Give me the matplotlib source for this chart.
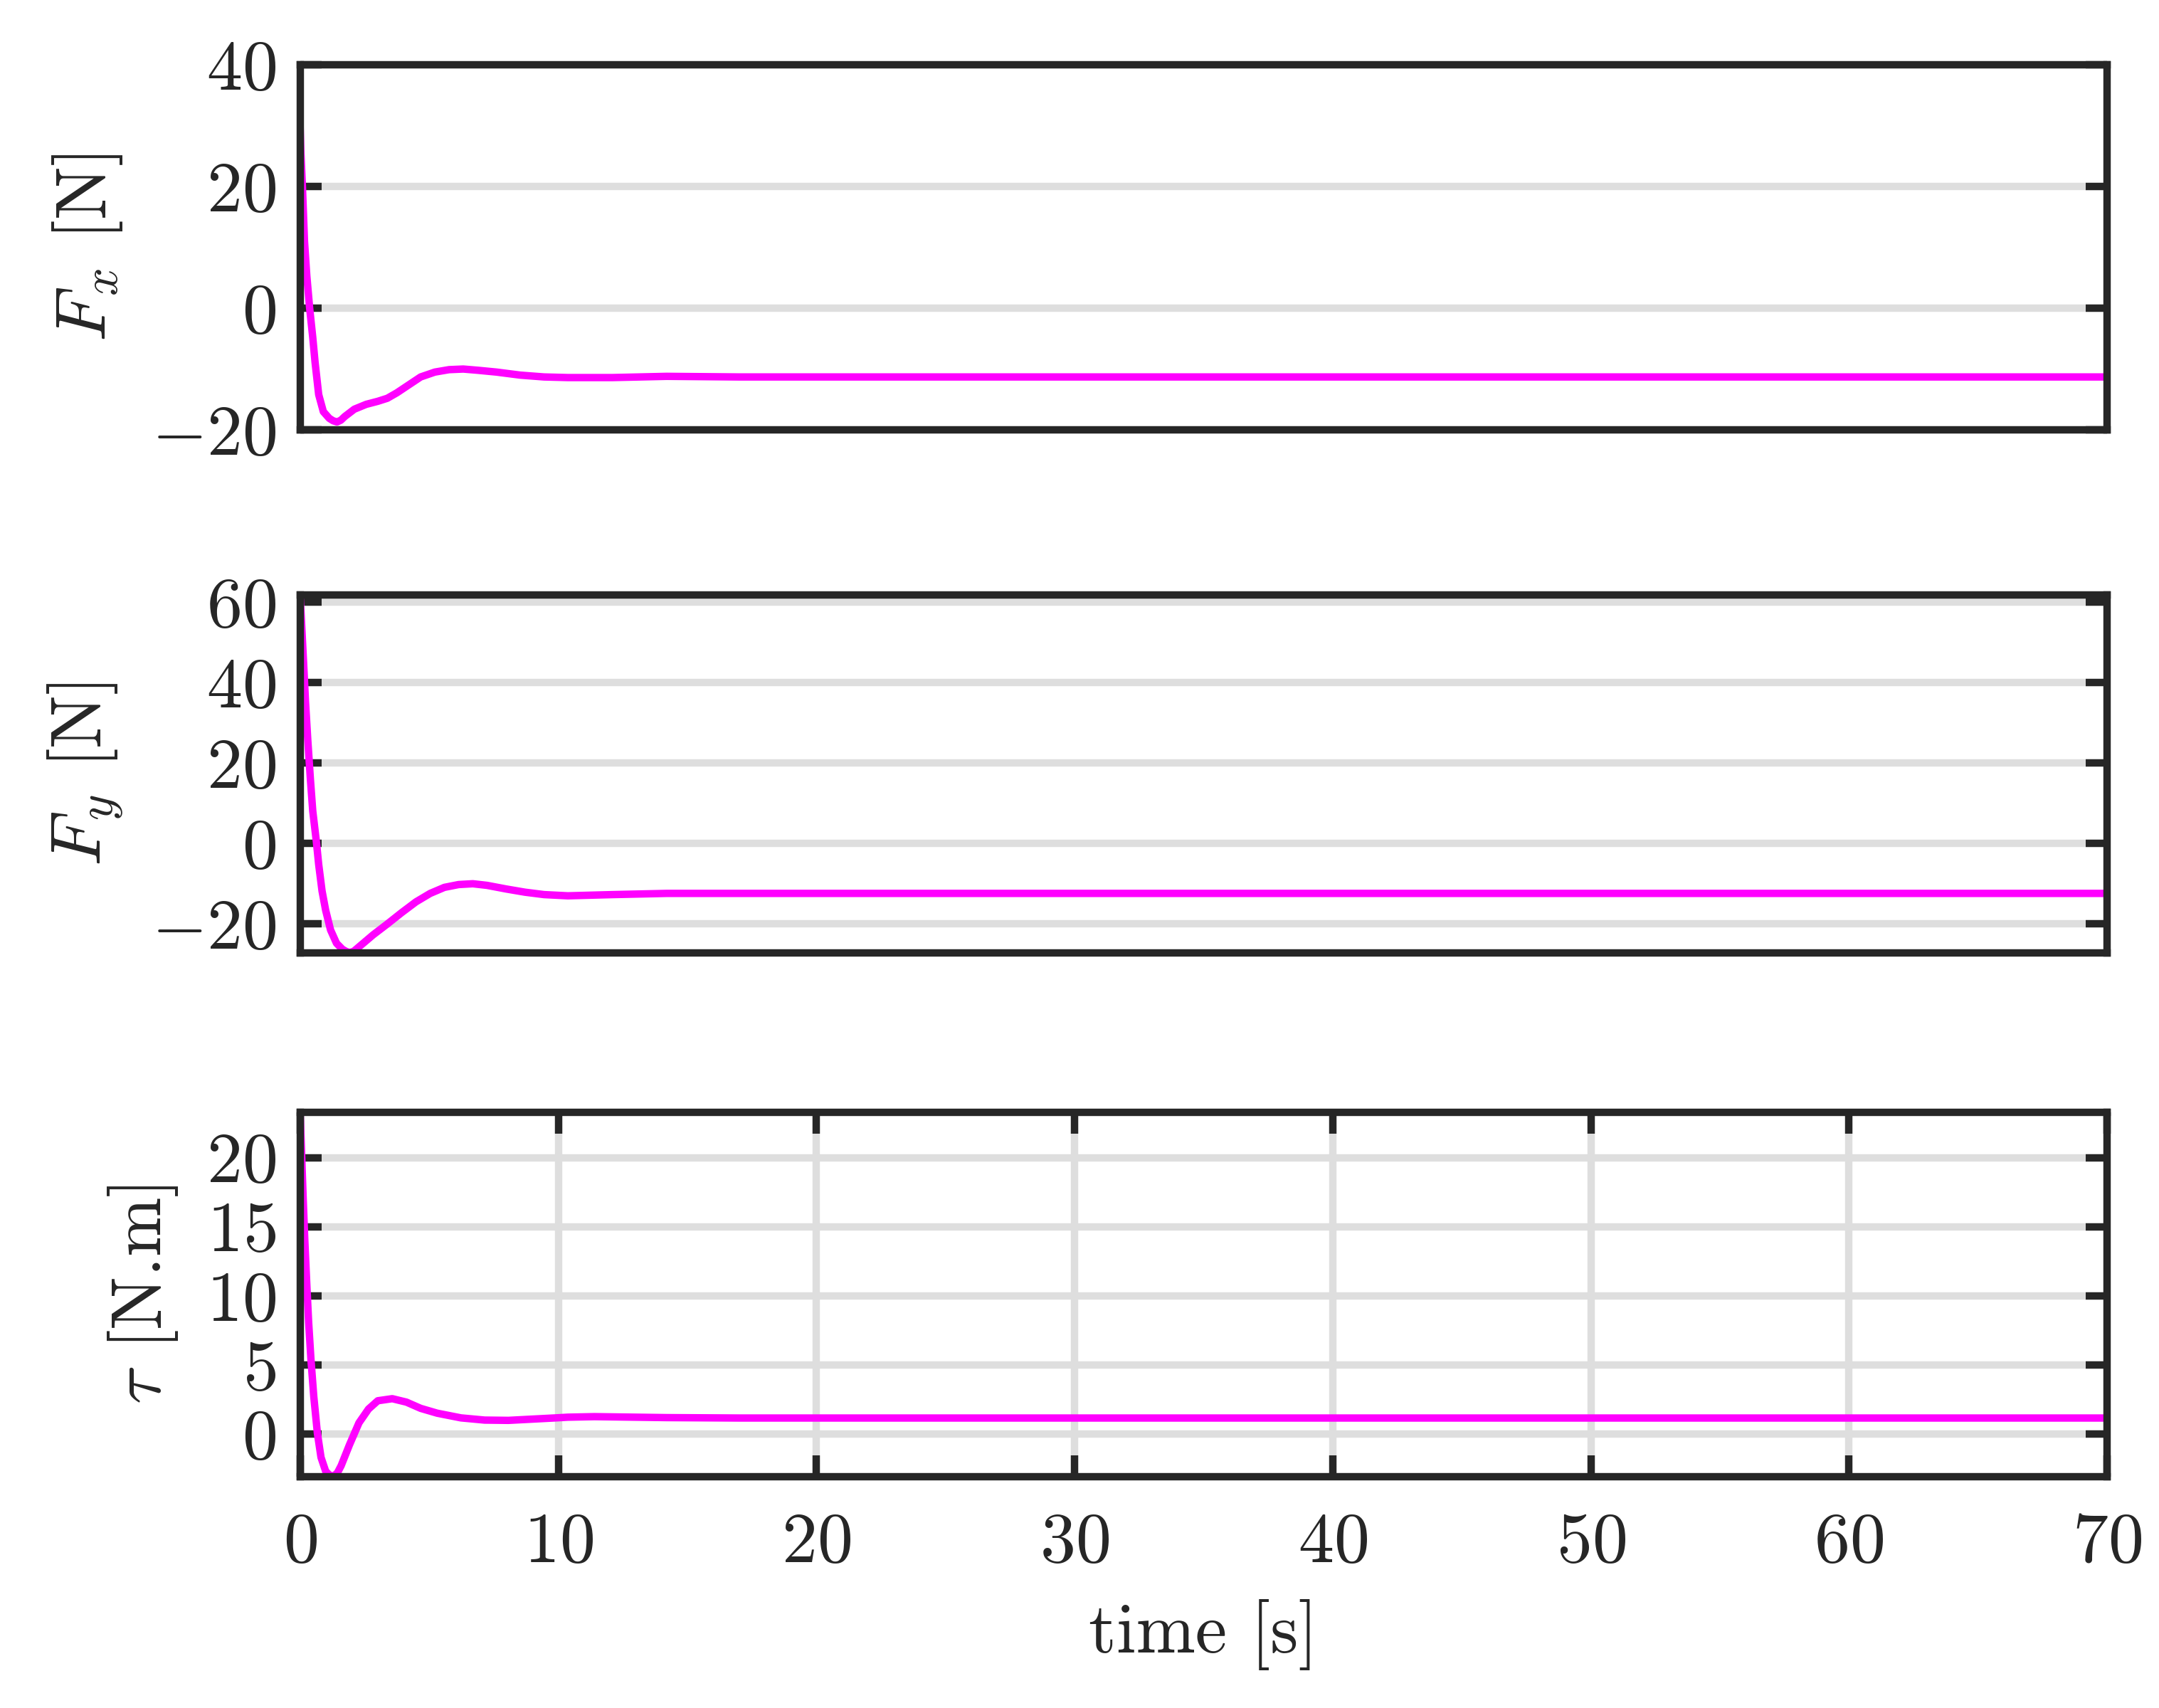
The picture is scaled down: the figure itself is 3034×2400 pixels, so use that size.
import matplotlib
matplotlib.use("Agg")
import matplotlib.pyplot as plt

# efforts de commande (temps en s)
t_fx = [0, 0.03, 0.09, 0.17, 0.26, 0.37, 0.49, 0.58, 0.72, 0.9, 1.13, 1.28, 1.43, 1.58, 1.73, 2.1, 2.56,
        3.01, 3.38, 3.75, 4.21, 4.67, 5.22, 5.77, 6.32, 6.88, 7.61, 8.53, 9.45, 10.37,
        12.1, 14.2, 17, 20, 30, 40, 50, 60, 70]
fx = [30, 25.6, 20, 11.0, 5.3, 0, -4.8, -8.9, -14.2, -17.0, -18.1, -18.5, -18.7, -18.4, -17.8, -16.6, -15.8,
      -15.3, -14.8, -13.9, -12.6, -11.3, -10.5, -10.1, -10.0, -10.2, -10.5, -11.0, -11.3, -11.4,
      -11.4, -11.2, -11.3, -11.3, -11.3, -11.3, -11.3, -11.3, -11.3]

t_fy = [0, 0.07, 0.15, 0.21, 0.30, 0.40, 0.49, 0.63, 0.72, 0.85, 0.99, 1.18, 1.41, 1.64, 1.8, 1.93,
        2.08, 2.28, 2.83, 3.38, 3.93, 4.49, 5.04, 5.59, 6.14, 6.69, 7.24, 7.98, 8.71, 9.45, 10.37,
        12.1, 14.2, 17, 20, 30, 40, 50, 60, 70]
fy = [61.7, 53.1, 42.9, 35.1, 25.4, 15.8, 8.0, 0.4, -5.3, -11.9, -16.7, -21.6, -24.9, -26.4, -27.0, -27.2,
      -26.9, -25.8, -22.8, -20.1, -17.3, -14.6, -12.5, -11.0, -10.3, -10.1, -10.5, -11.4, -12.2, -12.8, -13.1,
      -12.8, -12.5, -12.5, -12.5, -12.5, -12.5, -12.5, -12.5, -12.5]

t_tau = [0, 0.06, 0.12, 0.18, 0.26, 0.33, 0.42, 0.53, 0.67, 0.81, 0.99, 1.15, 1.31, 1.45, 1.59, 1.91, 2.28,
         2.65, 3.01, 3.57, 4.12, 4.67, 5.31, 6.23, 7.15, 8.07, 8.99, 9.91, 10.37, 11.4, 14.2,
         17, 20, 30, 40, 50, 60, 70]
tau = [23.3, 20.2, 17.0, 14.1, 10.8, 8.1, 5.4, 2.7, 0.05, -1.7, -2.7, -3.0, -3.05, -2.8, -2.3, -0.8, 0.8,
       1.8, 2.4, 2.55, 2.3, 1.85, 1.5, 1.16, 1.0, 0.98, 1.07, 1.16, 1.21, 1.25, 1.18,
       1.15, 1.15, 1.15, 1.15, 1.15, 1.15, 1.15]

xticks = [0, 10, 20, 30, 40, 50, 60, 70]

noir = "#262626"
gris = "#dedede"
magenta = "#ff00ff"

plt.rcParams["font.family"] = "serif"
plt.rcParams["font.serif"] = ["cmr10"]
plt.rcParams["mathtext.fontset"] = "cm"
plt.rcParams["axes.formatter.use_mathtext"] = True
plt.rcParams["font.size"] = 24
plt.rcParams["text.color"] = noir
plt.rcParams["axes.labelcolor"] = noir

fig = plt.figure(figsize=(3034 / 300, 2400 / 300), dpi=300)

gauche = 0.139
largeur = 0.837
ax1 = fig.add_axes([gauche, 0.7483, largeur, 0.2138])
ax2 = fig.add_axes([gauche, 0.4421, largeur, 0.2096])
ax3 = fig.add_axes([gauche, 0.1354, largeur, 0.2133])


def habillage(ax):
    for s in ax.spines.values():
        s.set_linewidth(2.5)
        s.set_color(noir)
    ax.tick_params(direction="in", length=7.2, width=2.5, color=noir, labelcolor=noir,
                   right=True, top=True, pad=8)
    ax.set_axisbelow(True)
    ax.set_xlim(0, 70)


ax1.plot(t_fx, fx, color=magenta, lw=2.5)
habillage(ax1)
ax1.set_ylim(-20, 40)
ax1.set_yticks([-20, 0, 20, 40])
ax1.set_xticks([])
ax1.grid(axis="y", color=gris, lw=2.5)
ax1.set_ylabel(r"$F_x$ [N]", labelpad=9)

ax2.plot(t_fy, fy, color=magenta, lw=2.5)
habillage(ax2)
ax2.set_ylim(-27.3, 61.75)
ax2.set_yticks([-20, 0, 20, 40, 60])
ax2.set_xticks([])
ax2.grid(axis="y", color=gris, lw=2.5)
ax2.set_ylabel(r"$F_y$ [N]", labelpad=9)

ax3.plot(t_tau, tau, color=magenta, lw=2.5)
habillage(ax3)
ax3.set_ylim(-3.1, 23.27)
ax3.set_yticks([0, 5, 10, 15, 20])
ax3.set_xticks(xticks)
ax3.grid(True, color=gris, lw=2.5)
ax3.tick_params(axis="x", pad=12)
ax3.set_ylabel(r"$\tau$ [N.m]", labelpad=9)
ax3.set_xlabel("time [s]", labelpad=8)

fig.savefig("out.png", dpi=300)
